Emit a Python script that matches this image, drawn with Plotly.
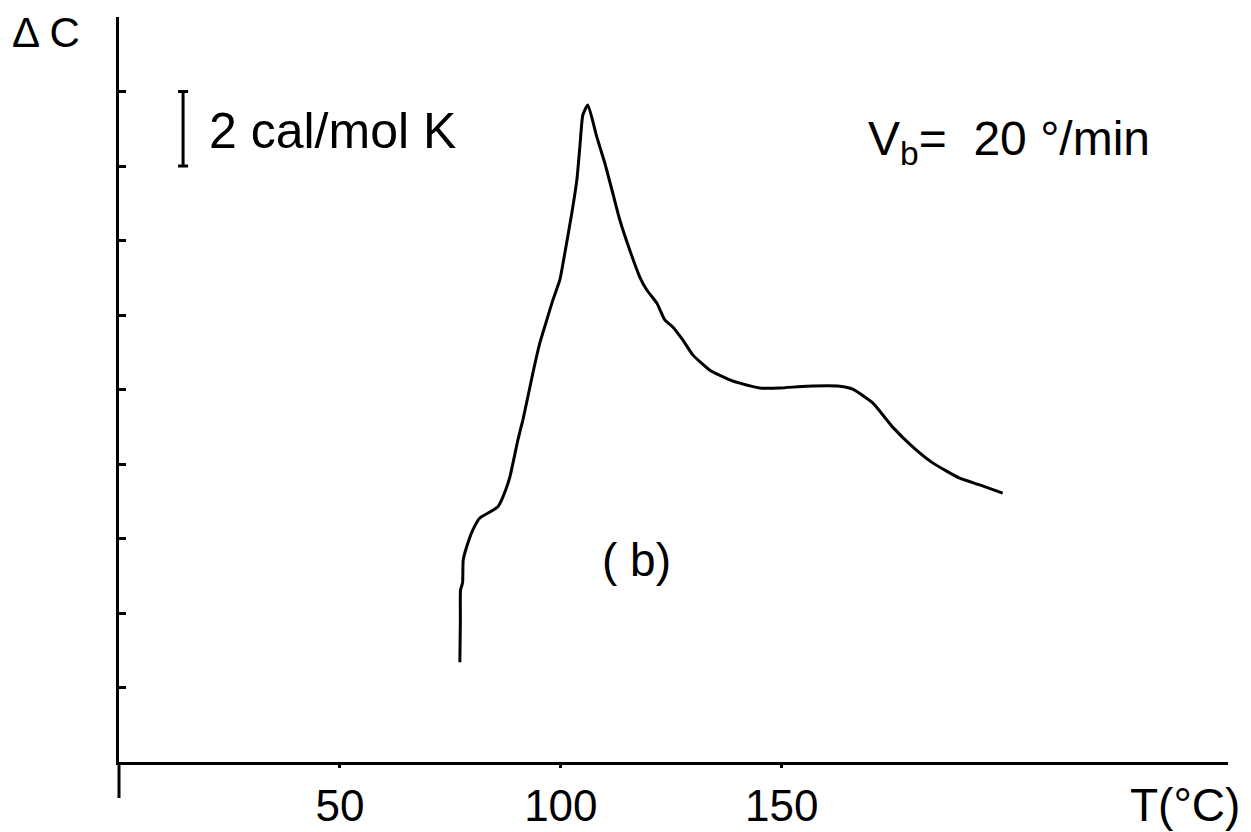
import plotly.graph_objects as go

# Curve (b): temperature (°C) and excess heat capacity (cal/mol K, arbitrary zero)
T = [77.15, 77.26, 77.3, 77.76, 77.9, 78.67, 80.09, 81.67, 83.94, 85.75, 86.88, 88.46,
     90.27, 91.4, 92.53, 93.67, 95.25, 96.83, 98.19, 99.77, 100.9, 102.49, 103.62, 104.3,
     104.98, 106.11, 108.14, 109.95, 111.76, 113.35, 115.61, 117.87, 119.46, 121.72,
     123.53, 125.34, 127.6, 129.86, 133.71, 138.24, 140.5, 145.02, 149.55, 155.66,
     163.12, 166.06, 170.59, 175.11, 179.64, 184.16, 190.27, 194.8, 200.0]
dC = [2.68, 3.81, 4.62, 4.81, 5.42, 5.77, 6.23, 6.55, 6.71, 6.85, 7.11, 7.65,
      8.64, 9.18, 9.80, 10.44, 11.25, 11.87, 12.40, 12.94, 13.66, 14.74, 15.62, 16.51,
      17.37, 17.64, 16.78, 16.08, 15.27, 14.55, 13.74, 13.02, 12.67, 12.32,
      11.87, 11.68, 11.33, 10.93, 10.52, 10.26, 10.17, 10.04, 10.04, 10.09,
      10.09, 10.01, 9.64, 8.99, 8.46, 8.03, 7.62, 7.44, 7.22]

x_ticks = [50, 100, 150]
x_tick_labels = ["50", "100", "150"]
y_ticks = [0, 2, 4, 6, 8, 10, 12, 14, 16, 18, 20]

# scale bar: 2 cal/mol K
bar_x = [14.5]
bar_mid = [17]
bar_half = [1]

SANS = "Liberation Sans, Arial, sans-serif"

fig = go.Figure()
fig.add_trace(go.Scatter(x=T, y=dC, mode="lines",
                         line=dict(color="black", width=3, shape="spline", smoothing=0.5),
                         showlegend=False, hoverinfo="skip"))
fig.add_trace(go.Scatter(x=bar_x, y=bar_mid, mode="markers",
                         marker=dict(size=1, color="black"),
                         error_y=dict(type="data", array=bar_half, color="black",
                                      thickness=3, width=5),
                         showlegend=False, hoverinfo="skip"))

fig.update_layout(
    width=1251, height=832,
    margin=dict(l=119, r=23, t=17, b=70, autoexpand=False),
    paper_bgcolor="white", plot_bgcolor="white",
    xaxis=dict(range=[0, 251], showgrid=False, zeroline=False, automargin=False,
               showline=True, linecolor="black", linewidth=3,
               tickmode="array", tickvals=x_ticks, ticktext=x_tick_labels,
               ticks="outside", ticklen=3, tickwidth=3, tickcolor="black",
               tickfont=dict(family=SANS, size=44, color="black")),
    yaxis=dict(range=[0, 20], showgrid=False, zeroline=False, automargin=False,
               showline=True, linecolor="black", linewidth=3,
               tickmode="array", tickvals=y_ticks, showticklabels=False,
               ticks="inside", ticklen=7, tickwidth=2.5, tickcolor="black"),
    shapes=[dict(type="line", xref="paper", yref="paper", x0=0, x1=0,
                 y0=0, y1=-36 / 745, line=dict(color="black", width=3))],
    annotations=[
        dict(text="Δ C", xref="paper", yref="paper", x=(10 - 119) / 1109,
             y=(762 - 33) / 745, xanchor="left", yanchor="middle", showarrow=False,
             font=dict(family=SANS, size=42, color="black")),
        dict(text="2 cal/mol K", xref="paper", yref="paper", x=(207 - 119) / 1109,
             y=(762 - 131) / 745, xanchor="left", yanchor="middle", showarrow=False,
             font=dict(family=SANS, size=50, color="black")),
        dict(text="V<sub>b</sub>=  20 °/min", xref="paper", yref="paper",
             x=(866 - 119) / 1109, y=(762 - 142) / 745, xanchor="left",
             yanchor="middle", showarrow=False,
             font=dict(family=SANS, size=48, color="black")),
        dict(text="( b)", xref="paper", yref="paper", x=(636 - 119) / 1109,
             y=(762 - 560) / 745, xanchor="center", yanchor="middle", showarrow=False,
             font=dict(family=SANS, size=46, color="black")),
        dict(text="T(°C)", xref="paper", yref="paper", x=(1185 - 119) / 1109,
             y=(762 - 805) / 745, xanchor="center", yanchor="middle", showarrow=False,
             font=dict(family=SANS, size=46, color="black")),
    ],
)

fig.write_html("out.html")
